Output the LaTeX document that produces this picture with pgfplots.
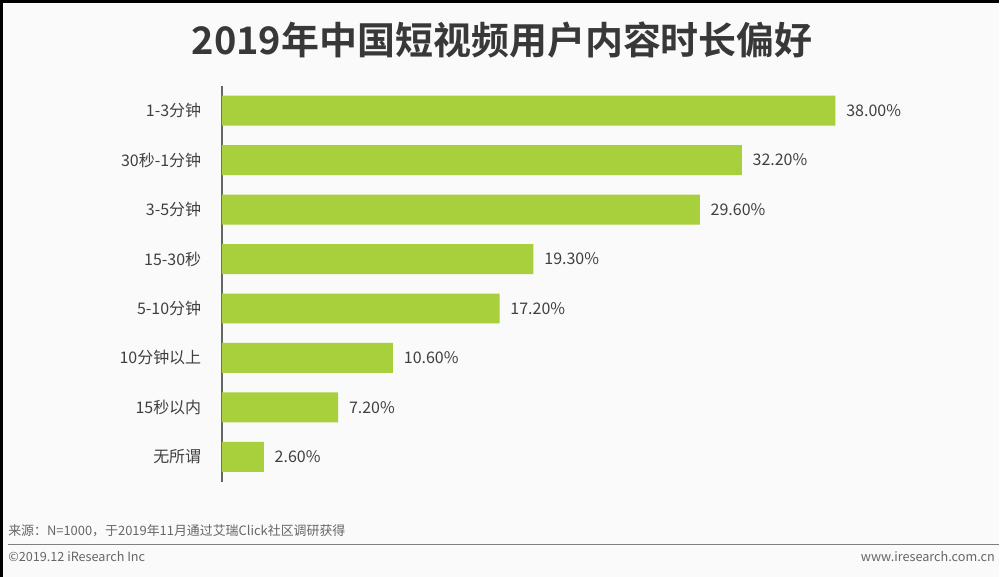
\documentclass[border=0pt]{standalone}
\usepackage{fontspec}
\setmainfont{Noto Sans CJK SC}
\newfontfamily\titlefont{Noto Sans CJK SC Bold}
\usepackage{pgfplots}
\pgfplotsset{compat=1.18}
\usepackage{pgfplotstable}
\definecolor{barcol}{HTML}{A8CF3C}
\definecolor{txt}{HTML}{404040}
\definecolor{bg}{HTML}{FAFAFA}
\pgfplotstableread{
y val
0 38.0
1 32.2
2 29.6
3 19.3
4 17.2
5 10.6
6 7.2
7 2.6
}\datatable
\begin{document}
\begin{tikzpicture}
% page frame: 1000x577 px at 0.75pt/px
\fill[bg] (0,0) rectangle (750pt,432.75pt);
\fill[black] (0,430.5pt) rectangle (750pt,432.75pt);
\fill[black] (0,0) rectangle (2.25pt,432.75pt);
% title
\node[font=\titlefont\fontsize{28.5}{32}\selectfont, text=black!78, anchor=center] at (377pt,403pt) {2019年中国短视频用户内容时长偏好};
\begin{axis}[
  at={(166.5pt,71.25pt)}, anchor=south west,
  scale only axis, width=484.8pt, height=297pt,
  xbar, bar width=22.5pt,
  xmin=0, xmax=40,
  ymin=-0.5, ymax=7.5, y dir=reverse,
  axis x line=none,
  axis y line*=left,
  y axis line style={draw=black!60, line width=1.1pt, -},
  ytick={0,...,7},
  yticklabels={1-3分钟,30秒-1分钟,3-5分钟,15-30秒,5-10分钟,10分钟以上,15秒以内,无所谓},
  ytick style={draw=none},
  yticklabel style={font=\fontsize{12}{14}\selectfont, text=txt, inner sep=0pt, xshift=-11pt},
  nodes near coords={\pgfmathprintnumber[fixed,fixed zerofill,precision=2]{\pgfplotspointmeta}\%},
  nodes near coords style={font=\fontsize{12}{14}\selectfont, text=txt, inner sep=0pt, xshift=8pt, anchor=west},
  /pgf/number format/assume math mode=true,
  clip=false,
]
\addplot[fill=barcol, draw=none] table[x=val, y=y] {\datatable};
\end{axis}
% footer
\node[anchor=west, font=\fontsize{9.7}{11}\selectfont, text=black!60, inner sep=0pt] at (6pt,34.5pt) {来源：N=1000，于2019年11月通过艾瑞Click社区调研获得};
\draw[black!50, line width=1.2pt] (6pt,24pt) -- (750pt,24pt);
\node[anchor=west, font=\fontsize{9.5}{11}\selectfont, text=black!60, inner sep=0pt] at (6pt,15pt) {©2019.12 iResearch Inc};
\node[anchor=west, font=\fontsize{9.5}{11}\selectfont, text=black!60, inner sep=0pt] at (646pt,15pt) {www.iresearch.com.cn};
\end{tikzpicture}
\end{document}
